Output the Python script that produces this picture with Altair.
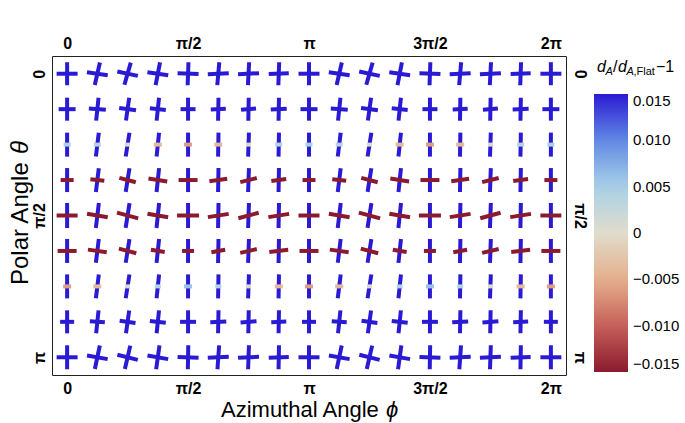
import math
import altair as alt
import pandas as pd

PI = math.pi

# Grid: azimuth in steps of pi/8 over [0, 2pi], polar angle in steps of pi/8 over [0, pi]
phi_steps = list(range(17))
theta_steps = list(range(9))

# Vertical (blue) bar of each cross: length per row, tilt per cell (degrees, clockwise)
v_len = [23, 23, 24, 24, 25, 24, 24, 23, 24]
v_tilt = [
    [0, 13, 16, 11, 2, 5, 3, 2, 0, 13, 16, 11, 2, 5, 3, 2, 0],
    [0, 6, 8, 6, 0, 1, 1, 1, 0, 6, 8, 6, 0, 1, 1, 1, 0],
    [0, 7, 9, 6, 0, 1, 2, 1, 0, 7, 9, 6, 0, 1, 2, 1, 0],
    [0, 7, 9, 6, 0, 1, 2, 1, 0, 7, 9, 6, 0, 1, 2, 1, 0],
    [0, 7, 9, 6, 0, 1, 2, 1, 0, 7, 9, 6, 0, 1, 2, 1, 0],
    [0, 7, 9, 6, 0, 1, 2, 1, 0, 7, 9, 6, 0, 1, 2, 1, 0],
    [0, 7, 9, 6, 0, 1, 2, 1, 0, 7, 9, 6, 0, 1, 2, 1, 0],
    [0, 6, 8, 6, 0, 1, 1, 1, 0, 6, 8, 6, 0, 1, 1, 1, 0],
    [0, 12, 13, 8, 1, 4, 2, 1, 0, 12, 13, 8, 1, 4, 2, 1, 0],
]
v_val = 0.02

# Horizontal bar of each cross: length, tilt and colour value per cell
h_len = [
    [21, 21, 21, 21, 21, 21, 21, 20, 21, 21, 21, 21, 21, 21, 21, 20, 21],
    [17, 17, 17, 16, 15, 15, 15, 16, 17, 17, 17, 16, 15, 15, 15, 16, 17],
    [7, 7, 5, 8, 8, 8, 5, 7, 7, 7, 5, 8, 8, 8, 5, 7, 7],
    [13, 14, 17, 19, 19, 18, 17, 15, 13, 14, 17, 19, 19, 18, 17, 15, 13],
    [21, 21, 22, 21, 22, 21, 21, 21, 21, 21, 22, 21, 22, 21, 21, 21, 21],
    [19, 19, 18, 14, 12, 14, 17, 19, 19, 19, 18, 14, 12, 14, 17, 19, 19],
    [8, 8, 5, 6, 8, 6, 5, 8, 8, 8, 5, 6, 8, 6, 5, 8, 8],
    [14, 15, 16, 16, 16, 16, 16, 15, 14, 15, 16, 16, 16, 16, 16, 15, 14],
    [21, 21, 21, 21, 21, 21, 21, 20, 21, 21, 21, 21, 21, 21, 21, 20, 21],
]
h_tilt = [
    [0, 8, 12, 8, 2, -3, -3, -2, 0, 8, 12, 8, 2, -3, -3, -2, 0],
    [0, 4, 8, 6, 0, -3, -5, -3, 0, 4, 8, 6, 0, -3, -5, -3, 0],
    [0, 0, 0, 0, 0, 0, 0, 0, 0, 0, 0, 0, 0, 0, 0, 0, 0],
    [0, 6, 15, 9, 0, -8, -14, -8, 0, 6, 15, 9, 0, -8, -14, -8, 0],
    [0, 10, 15, 10, 0, -9, -15, -9, 0, 10, 15, 10, 0, -9, -15, -9, 0],
    [0, 8, 15, 9, 0, -10, -13, -7, 0, 8, 15, 9, 0, -10, -13, -7, 0],
    [0, 0, 0, 0, 0, 0, 0, 0, 0, 0, 0, 0, 0, 0, 0, 0, 0],
    [0, 4, 8, 6, 0, -3, -5, -3, 0, 4, 8, 6, 0, -3, -5, -3, 0],
    [0, 10, 14, 10, 2, -3, -3, -2, 0, 10, 14, 10, 2, -3, -3, -2, 0],
]
h_val = [
    [0.02] * 17,
    [0.02] * 17,
    [0.005, 0.004, 0.0005, -0.004, -0.006, -0.004, 0.0005, 0.004,
     0.005, 0.004, 0.0005, -0.004, -0.006, -0.004, 0.0005, 0.004, 0.005],
    [-0.02] * 17,
    [-0.02] * 17,
    [-0.02] * 17,
    [-0.006, -0.004, 0.0005, 0.004, 0.006, 0.004, 0.0005, -0.004,
     -0.006, -0.004, 0.0005, 0.004, 0.006, 0.004, 0.0005, -0.004, -0.006],
    [0.02] * 17,
    [0.02] * 17,
]

# Colour bar
c_stops = [-0.015, -0.010, -0.005, 0.0, 0.005, 0.010, 0.015]
c_colors = ["#8b1a2e", "#c5605a", "#e6b08c", "#e0dccb", "#a8d2e8", "#6189e3", "#2b1ad3"]

rows = []
for j in theta_steps:
    for k in phi_steps:
        phi = k * PI / 8
        theta = j * PI / 8
        rows.append(dict(phi=phi, theta=theta, kind="v", tilt=v_tilt[j][k],
                         size=v_len[j] ** 2, val=v_val))
        rows.append(dict(phi=phi, theta=theta, kind="h", tilt=h_tilt[j][k],
                         size=h_len[j][k] ** 2, val=h_val[j][k]))
df = pd.DataFrame(rows)

W, H = 514, 319
FONT = "Liberation Sans"

x_scale = alt.Scale(domain=[-PI / 16, 2 * PI + PI / 16], nice=False, zero=False)
y_scale = alt.Scale(domain=[-PI / 16, PI + PI / 16], nice=False, zero=False, reverse=True)
c_scale = alt.Scale(domain=c_stops, range=c_colors, clamp=True, interpolate="rgb")

phi_ticks = [0, PI / 2, PI, 3 * PI / 2, 2 * PI]
theta_ticks = [0, PI / 2, PI]
x_label = "['0','\u03c0/2','\u03c0','3\u03c0/2','2\u03c0'][round(datum.value*2/PI)]"
y_label = "['0','\u03c0/2','\u03c0'][round(datum.value*2/PI)]"


def axis(orient, values, expr, angle=0, align=None, baseline=None):
    kw = dict(orient=orient, values=values, labelExpr=expr, title=None, ticks=False,
              domain=False, grid=False, labelFont=FONT, labelFontWeight="bold",
              labelFontSize=16, labelColor="black", labelPadding=5,
              labelFlush=False, labelOverlap=False, labelAngle=angle)
    if align:
        kw["labelAlign"] = align
    if baseline:
        kw["labelBaseline"] = baseline
    return alt.Axis(**kw)


legend = alt.Legend(
    orient="none", legendX=542, legendY=38, direction="vertical", title=None,
    gradientLength=278, gradientThickness=34, gradientStrokeWidth=0,
    values=c_stops, labelExpr="datum.value == 0 ? '0' : format(datum.value, '.3f')",
    labelFont=FONT, labelFontSize=15, labelColor="black", labelOffset=5,
    labelOverlap=False, padding=0,
)

base = alt.Chart(df)

vbars = base.transform_filter(alt.datum.kind == "v").mark_point(
    shape="M0,-1L0,1", filled=False, strokeWidth=4, opacity=1, strokeCap="butt"
).encode(
    x=alt.X("phi:Q", scale=x_scale, axis=axis("bottom", phi_ticks, x_label)),
    y=alt.Y("theta:Q", scale=y_scale,
            axis=axis("left", theta_ticks, y_label, 270, "center", "bottom")),
    angle=alt.Angle("tilt:Q", scale=None),
    size=alt.Size("size:Q", scale=None),
    color=alt.Color("val:Q", scale=c_scale, legend=legend),
)

hbars = base.transform_filter(alt.datum.kind == "h").mark_point(
    shape="M-1,0L1,0", filled=False, strokeWidth=4, opacity=1, strokeCap="butt"
).encode(
    x=alt.X("phi:Q", scale=x_scale, axis=axis("top", phi_ticks, x_label)),
    y=alt.Y("theta:Q", scale=y_scale,
            axis=axis("right", theta_ticks, y_label, 90, "center", "bottom")),
    angle=alt.Angle("tilt:Q", scale=None),
    size=alt.Size("size:Q", scale=None),
    color=alt.Color("val:Q", scale=c_scale, legend=legend),
)


def label(text, x, y, size=22, style="normal", angle=0, align="left", baseline="alphabetic"):
    return alt.Chart(alt.Data(values=[{}])).mark_text(
        text=text, font=FONT, fontSize=size, fontStyle=style, angle=angle,
        align=align, baseline=baseline, color="black",
    ).encode(x=alt.value(x), y=alt.value(y))


texts = [
    # bottom axis title
    label("Azimuthal Angle ", 169, 361),
    label("\u03d5", 334, 361, style="italic"),
    # left axis title (rotated)
    label("Polar Angle ", -31, 229, size=24, angle=270, baseline="middle"),
    label("\u03b8", -31, 98, size=24, style="italic", angle=270, baseline="middle"),
    # colour bar title: d_A / d_{A,Flat} - 1
    label("d", 545, 16, size=16, style="italic"),
    label("A", 553.5, 19, size=11, style="italic"),
    label("/", 561, 16, size=16),
    label("d", 566, 16, size=16, style="italic"),
    label("A", 574.5, 19, size=11, style="italic"),
    label(",Flat", 581.5, 19, size=11),
    label("\u22121", 604, 16, size=16),
]

chart = alt.layer(vbars, hbars, *texts).resolve_scale(
    x="independent", y="independent"
).properties(
    width=W, height=H,
    padding={"left": 52, "top": 56, "right": 119, "bottom": 48},
    autosize=alt.AutoSizeParams(type="none"),
    background="white",
).configure_view(
    stroke="#222222", strokeWidth=1
)

chart.save("out.html", embed_options={"renderer": "svg", "actions": False})
